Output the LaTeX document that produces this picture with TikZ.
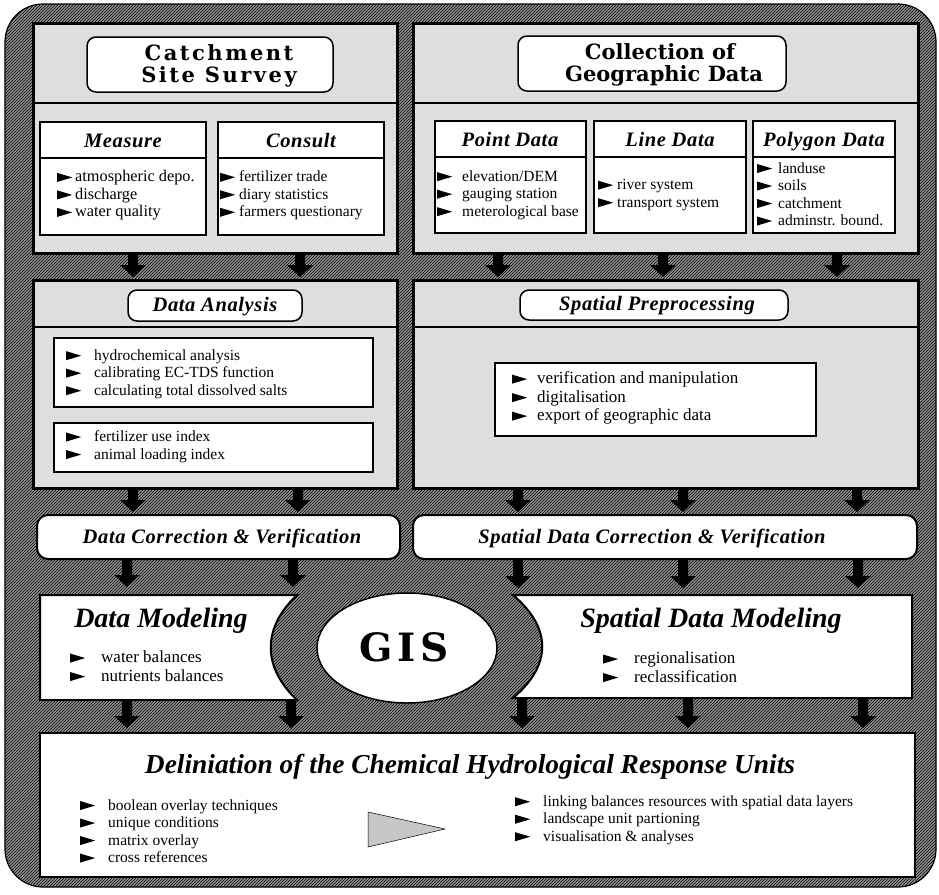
\documentclass[tikz,border=0pt]{standalone}
\usepackage{fontspec}
\setmainfont{Liberation Serif}
\newfontfamily\heavyserif{DejaVu Serif}
\usetikzlibrary{patterns}
\newcommand\bul[1]{\tikz[x=1pt,y=1pt,baseline=0pt]\fill (0,0) -- (15,4.5) -- (0,9) -- cycle;\hspace{#1pt}}
\newcommand\darrow[3]{\fill[black] ({#1-5},#2) -- ({#1+5},#2) -- ({#1+5},{#3-12}) -- ({#1+13},{#3-12}) -- (#1,#3) -- ({#1-13},{#3-12}) -- ({#1-5},{#3-12}) -- cycle;}
\tikzset{
  panel/.style={draw=black, line width=3pt, fill=black!13},
  subbox/.style={draw=black, line width=1.6pt, fill=white},
  titlebox/.style={draw=black, line width=1.5pt, fill=white, rounded corners=9pt},
  hdr/.style={font=\fontsize{20.5}{24}\selectfont\bfseries\itshape\addfontfeature{LetterSpace=3}, anchor=base, inner sep=0pt},
  bigttl/.style={font=\heavyserif\fontsize{21}{24}\selectfont\bfseries, anchor=base, inner sep=0pt},
  widettl/.style={font=\heavyserif\fontsize{21}{24}\selectfont\bfseries\addfontfeature{LetterSpace=12}, anchor=base, inner sep=0pt},
  modttl/.style={font=\fontsize{28}{32}\selectfont\bfseries\itshape, anchor=base, inner sep=0pt},
  lst/.style={font=\fontsize{15.5}{17.5}\selectfont, align=left, anchor=west, inner sep=0pt},
  lsttop/.style={font=\fontsize{16.3}{17.5}\selectfont, align=left, anchor=west, inner sep=0pt},
  lstbig/.style={font=\fontsize{17}{18.5}\selectfont, align=left, anchor=west, inner sep=0pt},
}
\begin{document}
\begin{tikzpicture}[x=1pt,y=-1pt]
\useasboundingbox (0,0) rectangle (939,894);
\fill[white] (0,0) rectangle (939,894);
% outer frame
\fill[black!42, rounded corners=38pt] (5,4) rectangle (936,887);
\fill[pattern=north east lines, pattern color=black, rounded corners=38pt] (5,4) rectangle (936,887);
\draw[black, line width=1.2pt, rounded corners=38pt] (5,4) rectangle (936,887);

% top panels
\draw[panel] (33,23) rectangle (397,253);
\draw[black, line width=2.5pt] (33,103) -- (397,103);
\draw[panel] (413,23) rectangle (918,253);
\draw[black, line width=2.5pt] (413,103) -- (918,103);

\draw[titlebox] (87,37) rectangle (333,92);
\node[widettl] (cat1) at (219,60) {Catchment};
\node[widettl] (cat2) at (219,82) {Site Survey};
\draw[titlebox] (518,36) rectangle (786,91);
\node[bigttl] (col1) at (660,59) {Collection of};
\node[bigttl] (col2) at (664,81) {Geographic Data};

% Measure / Consult
\draw[subbox] (40,122) rectangle (206,235);
\draw[black, line width=1.6pt] (40,158) -- (206,158);
\node[hdr] (measure) at (123,147) {Measure};
\node[lsttop] (measl) at (57,195.5) {\bul{3}atmospheric depo.\\\bul{3}discharge\\\bul{3}water quality};
\draw[subbox] (218,122) rectangle (384,235);
\draw[black, line width=1.6pt] (218,158) -- (384,158);
\node[hdr] (consult) at (301,147) {Consult};
\node[lst] (consl) at (220,195.5) {\bul{4}fertilizer trade\\\bul{4}diary statistics\\\bul{4}farmers questionary};

% Point / Line / Polygon
\draw[subbox] (435,121) rectangle (586,233);
\draw[black, line width=1.6pt] (435,157) -- (586,157);
\node[hdr] (point) at (510,146) {Point Data};
\node[lst] (pointl) at (437,195) {\bul{10}elevation/DEM\\\bul{10}gauging station\\\bul{10}meterological base};
\draw[subbox] (594,121) rectangle (746,233);
\draw[black, line width=1.6pt] (594,157) -- (746,157);
\node[hdr] (line) at (670,146) {Line Data};
\node[lst] (linel) at (598,195) {\bul{4}river system\\\bul{4}transport system};
\draw[subbox] (753,121) rectangle (895,233);
\draw[black, line width=1.6pt] (753,157) -- (895,157);
\node[hdr] (poly) at (824,146) {Polygon Data};
\node[lst] (polyl) at (757,194) {\bul{6}landuse\\\bul{6}soils\\\bul{6}catchment\\\bul{6}adminstr. bound.};

% middle panels
\draw[panel] (33,280) rectangle (397,488);
\draw[black, line width=2.5pt] (33,327) -- (397,327);
\draw[panel] (413,280) rectangle (918,488);
\draw[black, line width=2.5pt] (413,327) -- (918,327);

\draw[titlebox] (128,290) rectangle (302,321);
\node[hdr] (dana) at (215,311) {Data Analysis};
\draw[subbox] (54,338) rectangle (373,407);
\node[lst] (danal1) at (66,374) {\bul{13}hydrochemical analysis\\\bul{13}calibrating EC-TDS function\\\bul{13}calculating total dissolved salts};
\draw[subbox] (54,423) rectangle (373,472);
\node[lst] (danal2) at (66,446.5) {\bul{13}fertilizer use index\\\bul{13}animal loading index};

\draw[titlebox] (520,290) rectangle (788,320);
\node[hdr] (sprep) at (657,310) {Spatial Preprocessing};
\draw[subbox] (495,363) rectangle (816,436);
\node[lstbig] (sprepl) at (512,398) {\bul{10}verification and manipulation\\\bul{10}digitalisation\\\bul{10}export of geographic data};

% correction boxes
\draw[titlebox, line width=2pt, rounded corners=11pt] (37,515) rectangle (400,559);
\node[hdr] (dcor) at (222,543) {Data Correction \& Verification};
\draw[titlebox, line width=2pt, rounded corners=11pt] (413,515) rectangle (917,559);
\node[hdr] (sdcor) at (652,543) {Spatial Data Correction \& Verification};

% modeling shapes
\draw[fill=white, draw=black, line width=2pt] (40,595) -- (297,595) .. controls (262,628) and (262,667) .. (297,700) -- (40,700) -- cycle;
\node[modttl] (dmod) at (161,627) {Data Modeling};
\node[lstbig] (dmodl) at (70,666) {\bul{16}water balances\\\bul{16}nutrients balances};
\draw[fill=white, draw=black, line width=2pt] (513,595) -- (912,595) -- (912,698) -- (513,698) .. controls (552,665) and (552,628) .. (513,595) -- cycle;
\node[modttl] (sdmod) at (711,627) {Spatial Data Modeling};
\node[lstbig] (sdmodl) at (603,667) {\bul{16}regionalisation\\\bul{16}reclassification};

% GIS
\draw[fill=white, draw=black, line width=1.5pt] (407,648) ellipse [x radius=90, y radius=55];
\node[font=\heavyserif\fontsize{39}{44}\selectfont\bfseries, anchor=base, inner sep=0pt] (gis) at (404,661) {G\hspace{5pt}I\hspace{5pt}S};

% bottom box
\draw[fill=white, draw=black, line width=1.8pt] (40,733) rectangle (915,877);
\node[font=\fontsize{27.4}{30}\selectfont\bfseries\itshape, anchor=base, inner sep=0pt] (delin) at (470,773) {Deliniation of the Chemical Hydrological Response Units};
\node[lst] (dell) at (80,831) {\bul{13}boolean overlay techniques\\\bul{13}unique conditions\\\bul{13}matrix overlay\\\bul{13}cross references};
\draw[fill=black!22, draw=black, line width=0.5pt] (368,812) -- (445,829) -- (368,847) -- cycle;
\node[lst] (delr) at (515,820) {\bul{13}linking balances resources with spatial data layers\\\bul{13}landscape unit partioning\\\bul{13}visualisation \& analyses};

% block arrows
\darrow{133}{253}{277}
\darrow{300}{253}{277}
\darrow{498}{253}{277}
\darrow{663}{253}{277}
\darrow{837}{253}{277}
\darrow{133}{488}{512}
\darrow{298}{488}{512}
\darrow{518}{488}{512}
\darrow{683}{488}{512}
\darrow{857}{488}{512}
\darrow{127}{559}{587}
\darrow{293}{559}{587}
\darrow{518}{559}{588}
\darrow{683}{559}{588}
\darrow{858}{559}{588}
\darrow{127}{700}{728}
\darrow{291}{700}{728}
\darrow{522}{698}{728}
\darrow{688}{698}{728}
\darrow{863}{698}{728}
\end{tikzpicture}
\end{document}
